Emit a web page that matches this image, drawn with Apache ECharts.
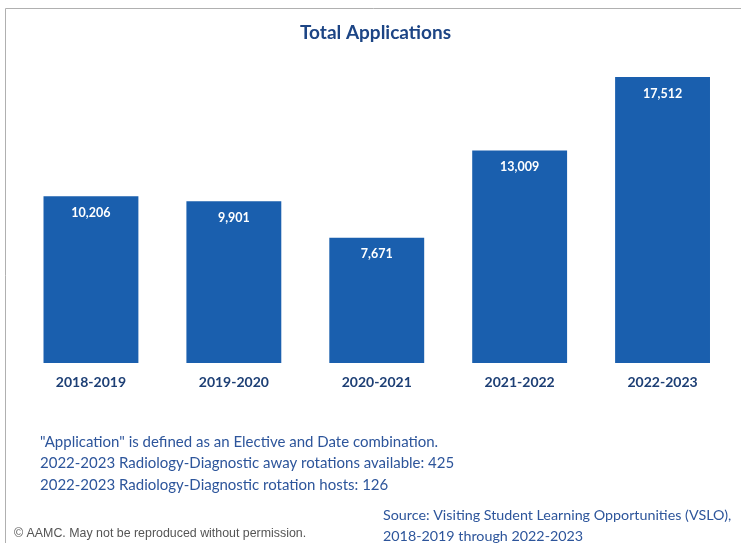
<!DOCTYPE html>
<html>
<head>
<meta charset="utf-8">
<script src="https://cdn.jsdelivr.net/npm/echarts@6/dist/echarts.min.js"></script>
<style>html,body{margin:0;padding:0;background:#fff}#c{width:741px;height:543px}</style>
</head>
<body>
<div id="c"></div>
<script>
var categories = ['2018-2019', '2019-2020', '2020-2021', '2021-2022', '2022-2023'];
var applications = [10206, 9901, 7671, 13009, 17512];
var titleText = 'Total Applications';
var footnotes = [
  '"Application" is defined as an Elective and Date combination.',
  '2022-2023 Radiology-Diagnostic away rotations available: 425',
  '2022-2023 Radiology-Diagnostic rotation hosts: 126'
];
var sourceLines = ['Source: Visiting Student Learning Opportunities (VSLO),', '2018-2019 through 2022-2023'];
var copyright = '\u00A9 AAMC. May not be reproduced without permission.';

var FONT = 'Lato, "Open Sans", sans-serif';
var chart = echarts.init(document.getElementById('c'));
chart.setOption({
  animation: false,
  title: {
    text: titleText, left: 295, top: 18,
    textStyle: {fontFamily: FONT, fontSize: 19, fontWeight: 'bold', color: '#1d4585'}
  },
  grid: {left: 19.5, right: 7, top: 77, bottom: 180, containLabel: false},
  xAxis: {
    type: 'category', data: categories,
    axisLine: {show: false}, axisTick: {show: false},
    axisLabel: {margin: 12, fontFamily: FONT, fontSize: 14, fontWeight: 'bold', color: '#1d3f75'}
  },
  yAxis: {type: 'value', min: 0, max: 17512, show: false, splitLine: {show: false}},
  series: [{
    type: 'bar', data: applications, barWidth: '66.4%',
    itemStyle: {color: '#1a5fae'},
    label: {
      show: true, position: 'insideTop', distance: 10,
      formatter: function (p) { return p.value.toLocaleString('en-US'); },
      fontFamily: FONT, fontSize: 12.5, fontWeight: 'bold', color: '#ffffff'
    }
  }],
  graphic: [
    {type: 'line', shape: {x1: 5.5, y1: 8.5, x2: 741, y2: 8.5}, style: {stroke: '#b0b0b0', lineWidth: 1}},
    {type: 'line', shape: {x1: 5.5, y1: 8.5, x2: 5.5, y2: 543}, style: {stroke: '#b0b0b0', lineWidth: 1}},
    {type: 'text', left: 40, top: 431, style: {text: footnotes.join('\n'), fontFamily: FONT, fontSize: 15, lineHeight: 21.5, fill: '#2d559b'}},
    {type: 'text', left: 383, top: 505, style: {text: sourceLines.join('\n'), fontFamily: FONT, fontSize: 14.3, lineHeight: 21, fill: '#2d559b'}},
    {type: 'text', left: 14, top: 528, style: {text: copyright, fontFamily: '"Liberation Sans Narrow", "Liberation Sans", sans-serif', fontSize: 12.4, fill: '#555555'}}
  ]
});
</script>
</body>
</html>
